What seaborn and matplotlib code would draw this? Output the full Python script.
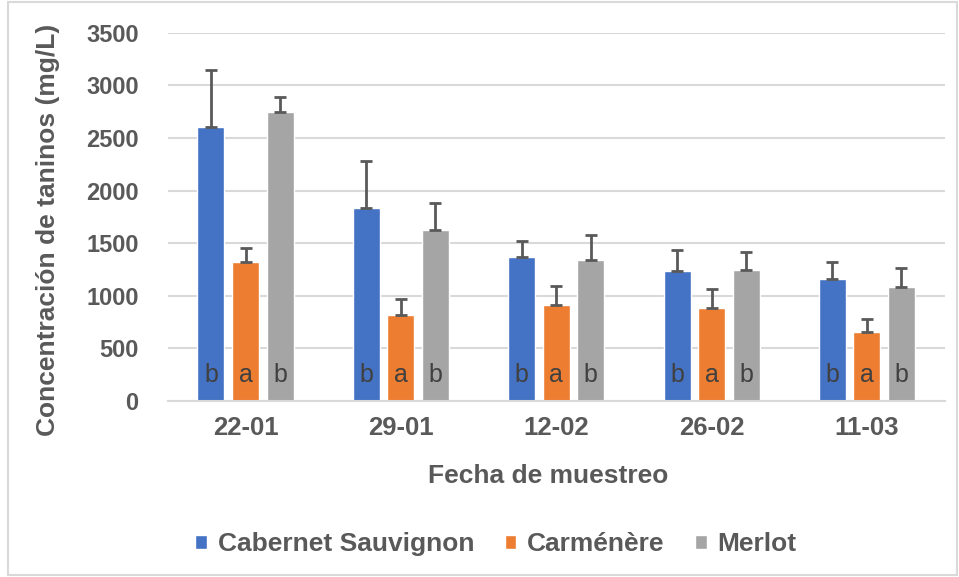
import matplotlib
matplotlib.use("Agg")
import matplotlib.pyplot as plt
from matplotlib.patches import Rectangle
import seaborn as sns
import pandas as pd
import numpy as np

fechas = ["22-01", "29-01", "12-02", "26-02", "11-03"]
variedades = ["Cabernet Sauvignon", "Carménère", "Merlot"]
cabernet = [2605, 1833, 1370, 1234, 1160]
carmenere = [1322, 821, 916, 882, 659]
merlot = [2746, 1623, 1344, 1246, 1087]
cabernet_err = [546, 452, 149, 199, 165]
carmenere_err = [136, 149, 175, 183, 118]
merlot_err = [148, 263, 238, 168, 175]
letras_cabernet = ["b", "b", "b", "b", "b"]
letras_carmenere = ["a", "a", "a", "a", "a"]
letras_merlot = ["b", "b", "b", "b", "b"]
colores = ["#4472C4", "#ED7D31", "#A5A5A5"]

valores = [cabernet, carmenere, merlot]
errores = [cabernet_err, carmenere_err, merlot_err]
letras = [letras_cabernet, letras_carmenere, letras_merlot]

rows = []
for v, vals in zip(variedades, valores):
    for f, val in zip(fechas, vals):
        rows.append({"Fecha": f, "Variedad": v, "Valor": val})
df = pd.DataFrame(rows)

sns.set_style("white")
plt.rcParams["font.family"] = ["Liberation Sans", "DejaVu Sans"]

fig = plt.figure(figsize=(9.59, 5.77), dpi=100)
ax = fig.add_axes([0.175, 0.305, 0.81, 0.638])

sns.barplot(data=df, x="Fecha", y="Valor", hue="Variedad", order=fechas,
            hue_order=variedades, palette=colores, width=0.667, gap=0.22,
            errorbar=None, ax=ax, saturation=1, legend=True)

# error bars and letters from the bar patches
bar_containers = list(ax.containers)
for i, cont in enumerate(bar_containers):
    xs = [p.get_x() + p.get_width() / 2 for p in cont.patches]
    hs = [p.get_height() for p in cont.patches]
    ax.errorbar(xs, hs, yerr=[np.zeros(len(hs)), errores[i]], fmt="none",
                ecolor="#595959", elinewidth=2, capsize=4.5, capthick=2, zorder=3)
    for x, l in zip(xs, letras[i]):
        ax.text(x, 250, l, ha="center", va="center", fontsize=18, color="#404040")

ax.set_ylim(0, 3500)
ax.set_xlim(-0.5, 4.5)
ax.set_yticks(np.arange(0, 3501, 500))
ax.grid(axis="y", color="#D9D9D9", lw=1.5)
ax.set_axisbelow(True)
for s in ["top", "right", "left"]:
    ax.spines[s].set_visible(False)
ax.spines["bottom"].set_color("#D9D9D9")
ax.spines["bottom"].set_linewidth(1.5)

ax.tick_params(axis="y", length=0, labelsize=17, labelcolor="#595959", pad=21)
ax.tick_params(axis="x", which="major", length=0, labelsize=18.5, labelcolor="#595959", pad=11)
ax.set_xticks(np.arange(-0.5, 4.6, 1), minor=True)
ax.tick_params(axis="x", which="minor", length=8, width=1.5, color="#D9D9D9")
for lab in ax.get_xticklabels() + ax.get_yticklabels():
    lab.set_fontweight("bold")

ax.set_ylabel("Concentración de taninos (mg/L)", fontsize=19, fontweight="bold",
              color="#595959", va="center")
ax.yaxis.set_label_coords(-0.1544, 0.465)
ax.set_xlabel("Fecha de muestreo", fontsize=19, fontweight="bold", color="#595959",
              va="center")
ax.xaxis.set_label_coords(0.49, -0.204)

ax.legend(loc="center", bbox_to_anchor=(0.517, 0.057), bbox_transform=fig.transFigure,
          ncol=3, frameon=False,
          handlelength=0.45, handleheight=0.45, handletextpad=0.4, columnspacing=1.15,
          prop={"size": 19, "weight": "bold"}, labelcolor="#595959")

fig.patches.append(Rectangle((8 / 959, 0.003), 0.99, 0.994, transform=fig.transFigure,
                             fill=False, edgecolor="#D9D9D9", lw=1.5))

fig.savefig("out.png", dpi=100)
